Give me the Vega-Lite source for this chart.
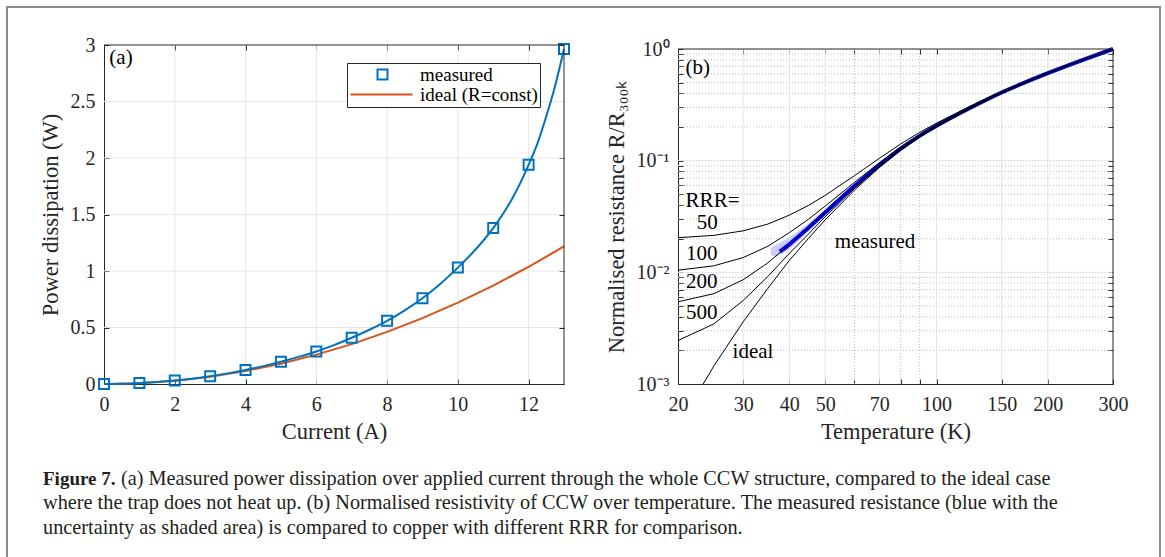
{
  "$schema": "https://vega.github.io/schema/vega-lite/v6.json",
  "width": 1153,
  "height": 560,
  "padding": {"left": 7, "top": 7, "right": 3, "bottom": 0},
  "autosize": "none",
  "background": "white",
  "datasets": {
    "pa": [
      {"I": 0, "P": 0, "s": "measured"}, {"I": 1, "P": 0.009, "s": "measured"}, {"I": 2, "P": 0.03, "s": "measured"},
      {"I": 3, "P": 0.068, "s": "measured"}, {"I": 4, "P": 0.124, "s": "measured"}, {"I": 5, "P": 0.197, "s": "measured"},
      {"I": 6, "P": 0.288, "s": "measured"}, {"I": 7, "P": 0.409, "s": "measured"}, {"I": 8, "P": 0.559, "s": "measured"},
      {"I": 9, "P": 0.759, "s": "measured"}, {"I": 10, "P": 1.03, "s": "measured"}, {"I": 11, "P": 1.38, "s": "measured"},
      {"I": 12, "P": 1.94, "s": "measured"}, {"I": 13, "P": 2.965, "s": "measured"}
    ],
    "pfit": [
      {"I": 0, "P": 0}, {"I": 0.5, "P": 0.002}, {"I": 1, "P": 0.009}, {"I": 1.5, "P": 0.018}, {"I": 2, "P": 0.03},
      {"I": 2.5, "P": 0.047}, {"I": 3, "P": 0.068}, {"I": 3.5, "P": 0.094}, {"I": 4, "P": 0.124}, {"I": 4.5, "P": 0.158},
      {"I": 5, "P": 0.197}, {"I": 5.5, "P": 0.24}, {"I": 6, "P": 0.288}, {"I": 6.5, "P": 0.344}, {"I": 7, "P": 0.409},
      {"I": 7.5, "P": 0.48}, {"I": 8, "P": 0.559}, {"I": 8.5, "P": 0.652}, {"I": 9, "P": 0.759}, {"I": 9.5, "P": 0.885},
      {"I": 10, "P": 1.03}, {"I": 10.5, "P": 1.19}, {"I": 11, "P": 1.38}, {"I": 11.5, "P": 1.62}, {"I": 12, "P": 1.94},
      {"I": 12.25, "P": 2.13}, {"I": 12.5, "P": 2.37}, {"I": 12.75, "P": 2.64}, {"I": 13, "P": 2.965}
    ],
    "pideal": [
      {"I": 0, "P": 0}, {"I": 1, "P": 0.0072}, {"I": 2, "P": 0.029}, {"I": 3, "P": 0.065}, {"I": 4, "P": 0.115},
      {"I": 5, "P": 0.18}, {"I": 6, "P": 0.26}, {"I": 7, "P": 0.353}, {"I": 8, "P": 0.461}, {"I": 9, "P": 0.583},
      {"I": 10, "P": 0.72}, {"I": 11, "P": 0.871}, {"I": 12, "P": 1.037}, {"I": 13, "P": 1.217}
    ],
    "gxa": [{"v": 2}, {"v": 4}, {"v": 6}, {"v": 8}, {"v": 10}, {"v": 12}],
    "gya": [{"v": 0.5}, {"v": 1}, {"v": 1.5}, {"v": 2}, {"v": 2.5}],
    "one": [{}],
    "laba": [{"x": 0.48, "y": 2.885, "t": "(a)"}],
    "gxbmaj": [{"v": 30}, {"v": 40}, {"v": 50}, {"v": 70}, {"v": 100}, {"v": 150}, {"v": 200}],
    "gxbmin": [{"v": 60}, {"v": 80}, {"v": 90}],
    "gybmaj": [{"v": 0.01}, {"v": 0.1}],
    "gybmin": [
      {"v": 0.002}, {"v": 0.003}, {"v": 0.004}, {"v": 0.005}, {"v": 0.006}, {"v": 0.007}, {"v": 0.008}, {"v": 0.009},
      {"v": 0.02}, {"v": 0.03}, {"v": 0.04}, {"v": 0.05}, {"v": 0.06}, {"v": 0.07}, {"v": 0.08}, {"v": 0.09},
      {"v": 0.2}, {"v": 0.3}, {"v": 0.4}, {"v": 0.5}, {"v": 0.6}, {"v": 0.7}, {"v": 0.8}, {"v": 0.9}
    ],
    "band": [
      {"T": 35.6, "lo": 0.0143, "hi": 0.0165}, {"T": 37, "lo": 0.0138, "hi": 0.0178}, {"T": 40, "lo": 0.016, "hi": 0.0205},
      {"T": 45, "lo": 0.0232, "hi": 0.0272}, {"T": 50, "lo": 0.0322, "hi": 0.0365}, {"T": 60, "lo": 0.0572, "hi": 0.0615},
      {"T": 70, "lo": 0.089, "hi": 0.0935}, {"T": 80, "lo": 0.126, "hi": 0.13}, {"T": 100, "lo": 0.203, "hi": 0.207},
      {"T": 150, "lo": 0.405, "hi": 0.41}, {"T": 200, "lo": 0.605, "hi": 0.611}, {"T": 300, "lo": 0.996, "hi": 1.0}
    ],
    "meas": [
      {"T": 37.7, "R": 0.0153}, {"T": 40, "R": 0.0178}, {"T": 45, "R": 0.025}, {"T": 50, "R": 0.0343}, {"T": 60, "R": 0.0592},
      {"T": 70, "R": 0.091}, {"T": 80, "R": 0.1279}, {"T": 90, "R": 0.1667}, {"T": 100, "R": 0.205}, {"T": 125, "R": 0.3035},
      {"T": 150, "R": 0.4075}, {"T": 200, "R": 0.608}, {"T": 250, "R": 0.805}, {"T": 300, "R": 1.0}
    ],
    "curves": [
      {"c": "ideal", "T": 23.4, "R": 0.001}, {"c": "ideal", "T": 25, "R": 0.00145}, {"c": "ideal", "T": 30, "R": 0.0036},
      {"c": "ideal", "T": 35, "R": 0.0072}, {"c": "ideal", "T": 40, "R": 0.0128}, {"c": "ideal", "T": 45, "R": 0.02},
      {"c": "ideal", "T": 50, "R": 0.0295}, {"c": "ideal", "T": 60, "R": 0.0545}, {"c": "ideal", "T": 70, "R": 0.0865},
      {"c": "ideal", "T": 80, "R": 0.1235}, {"c": "ideal", "T": 90, "R": 0.1625}, {"c": "ideal", "T": 100, "R": 0.201},
      {"c": "ideal", "T": 125, "R": 0.3}, {"c": "ideal", "T": 150, "R": 0.4045}, {"c": "ideal", "T": 200, "R": 0.606},
      {"c": "ideal", "T": 250, "R": 0.804}, {"c": "ideal", "T": 300, "R": 1.0},
      {"c": "50", "T": 20, "R": 0.02044}, {"c": "50", "T": 25, "R": 0.02142}, {"c": "50", "T": 30, "R": 0.02353},
      {"c": "50", "T": 35, "R": 0.02706}, {"c": "50", "T": 40, "R": 0.03254}, {"c": "50", "T": 45, "R": 0.0396},
      {"c": "50", "T": 50, "R": 0.04891}, {"c": "50", "T": 60, "R": 0.07341}, {"c": "50", "T": 70, "R": 0.10477},
      {"c": "50", "T": 80, "R": 0.14103}, {"c": "50", "T": 90, "R": 0.17925}, {"c": "50", "T": 100, "R": 0.21698},
      {"c": "50", "T": 125, "R": 0.314}, {"c": "50", "T": 150, "R": 0.41641}, {"c": "50", "T": 200, "R": 0.61388},
      {"c": "50", "T": 250, "R": 0.80792}, {"c": "50", "T": 300, "R": 1.0},
      {"c": "100", "T": 20, "R": 0.01045}, {"c": "100", "T": 25, "R": 0.01144}, {"c": "100", "T": 30, "R": 0.01356},
      {"c": "100", "T": 35, "R": 0.01713}, {"c": "100", "T": 40, "R": 0.02267}, {"c": "100", "T": 45, "R": 0.0298},
      {"c": "100", "T": 50, "R": 0.0392}, {"c": "100", "T": 60, "R": 0.06396}, {"c": "100", "T": 70, "R": 0.09564},
      {"c": "100", "T": 80, "R": 0.13227}, {"c": "100", "T": 90, "R": 0.17088}, {"c": "100", "T": 100, "R": 0.20899},
      {"c": "100", "T": 125, "R": 0.307}, {"c": "100", "T": 150, "R": 0.41046}, {"c": "100", "T": 200, "R": 0.60994},
      {"c": "100", "T": 250, "R": 0.80596}, {"c": "100", "T": 300, "R": 1.0},
      {"c": "200", "T": 20, "R": 0.00545}, {"c": "200", "T": 25, "R": 0.00644}, {"c": "200", "T": 30, "R": 0.00858},
      {"c": "200", "T": 35, "R": 0.01216}, {"c": "200", "T": 40, "R": 0.01774}, {"c": "200", "T": 45, "R": 0.0249},
      {"c": "200", "T": 50, "R": 0.03435}, {"c": "200", "T": 60, "R": 0.05923}, {"c": "200", "T": 70, "R": 0.09107},
      {"c": "200", "T": 80, "R": 0.12788}, {"c": "200", "T": 90, "R": 0.16669}, {"c": "200", "T": 100, "R": 0.205},
      {"c": "200", "T": 125, "R": 0.3035}, {"c": "200", "T": 150, "R": 0.40748}, {"c": "200", "T": 200, "R": 0.60797},
      {"c": "200", "T": 250, "R": 0.80498}, {"c": "200", "T": 300, "R": 1.0},
      {"c": "500", "T": 20, "R": 0.00245}, {"c": "500", "T": 25, "R": 0.00345}, {"c": "500", "T": 30, "R": 0.00559},
      {"c": "500", "T": 35, "R": 0.00919}, {"c": "500", "T": 40, "R": 0.01477}, {"c": "500", "T": 45, "R": 0.02196},
      {"c": "500", "T": 50, "R": 0.03144}, {"c": "500", "T": 60, "R": 0.05639}, {"c": "500", "T": 70, "R": 0.08833},
      {"c": "500", "T": 80, "R": 0.12525}, {"c": "500", "T": 90, "R": 0.16418}, {"c": "500", "T": 100, "R": 0.2026},
      {"c": "500", "T": 125, "R": 0.3014}, {"c": "500", "T": 150, "R": 0.40569}, {"c": "500", "T": 200, "R": 0.60679},
      {"c": "500", "T": 250, "R": 0.80439}, {"c": "500", "T": 300, "R": 1.0}
    ],
    "labb": [
      {"T": 24.8, "R": 0.0435, "t": "RRR="}, {"T": 24.0, "R": 0.0274, "t": "50"}, {"T": 23.2, "R": 0.0146, "t": "100"},
      {"T": 23.2, "R": 0.0082, "t": "200"}, {"T": 23.2, "R": 0.00435, "t": "500"}, {"T": 31.9, "R": 0.00194, "t": "ideal"},
      {"T": 68.2, "R": 0.0188, "t": "measured"}, {"T": 22.6, "R": 0.675, "t": "(b)"}
    ],
    "cap1": [{"line": 1, "t": "Figure 7."}],
    "cap2": [{"line": 1, "t": "(a) Measured power dissipation over applied current through the whole CCW structure, compared to the ideal case"}],
    "cap3": [
      {"line": 2, "t": "where the trap does not heat up. (b) Normalised resistivity of CCW over temperature. The measured resistance (blue with the"},
      {"line": 3, "t": "uncertainty as shaded area) is compared to copper with different RRR for comparison."}
    ]
  },
  "layer": [
    {
      "data": {"name": "gxa"},
      "mark": {"type": "rule", "color": "#E6E6E6", "strokeWidth": 1},
      "encoding": {
        "x": {"field": "v", "type": "quantitative", "scale": {"domain": [0, 13], "range": [97, 557], "zero": false, "nice": false}, "axis": null},
        "y": {"datum": 0, "type": "quantitative", "scale": {"domain": [0, 3], "range": [377, 38], "zero": false, "nice": false}, "axis": null},
        "y2": {"datum": 3}
      }
    },
    {
      "data": {"name": "gya"},
      "mark": {"type": "rule", "color": "#E6E6E6", "strokeWidth": 1},
      "encoding": {
        "y": {"field": "v", "type": "quantitative", "scale": {"domain": [0, 3], "range": [377, 38], "zero": false, "nice": false}, "axis": null},
        "x": {"datum": 0, "type": "quantitative", "scale": {"domain": [0, 13], "range": [97, 557], "zero": false, "nice": false}, "axis": null},
        "x2": {"datum": 13}
      }
    },
    {
      "data": {"name": "pideal"},
      "mark": {"type": "line", "color": "#D95319", "strokeWidth": 2},
      "encoding": {
        "x": {"field": "I", "type": "quantitative", "scale": {"domain": [0, 13], "range": [97, 557], "zero": false, "nice": false}, "axis": null},
        "y": {"field": "P", "type": "quantitative", "scale": {"domain": [0, 3], "range": [377, 38], "zero": false, "nice": false}, "axis": null}
      }
    },
    {
      "data": {"name": "pfit"},
      "mark": {"type": "line", "color": "#0072BD", "strokeWidth": 2, "interpolate": "monotone"},
      "encoding": {
        "x": {"field": "I", "type": "quantitative", "scale": {"domain": [0, 13], "range": [97, 557], "zero": false, "nice": false},
          "axis": {"orient": "bottom", "offset": -183, "values": [0, 2, 4, 6, 8, 10, 12], "format": "~g", "title": "Current (A)"}},
        "y": {"field": "P", "type": "quantitative", "scale": {"domain": [0, 3], "range": [377, 38], "zero": false, "nice": false},
          "axis": {"orient": "left", "offset": -97, "values": [0, 0.5, 1, 1.5, 2, 2.5, 3], "format": "~g", "title": "Power dissipation (W)"}}
      }
    },
    {
      "data": {"name": "pa"},
      "mark": {"type": "point", "filled": false, "size": 100, "strokeWidth": 2, "opacity": 1},
      "encoding": {
        "x": {"field": "I", "type": "quantitative", "scale": {"domain": [0, 13], "range": [97, 557], "zero": false, "nice": false}, "axis": null},
        "y": {"field": "P", "type": "quantitative", "scale": {"domain": [0, 3], "range": [377, 38], "zero": false, "nice": false}, "axis": null},
        "color": {"field": "s", "type": "nominal", "scale": {"domain": ["measured", "ideal (R=const)"], "range": ["#0072BD", "#D95319"]}},
        "shape": {"field": "s", "type": "nominal", "scale": {"domain": ["measured", "ideal (R=const)"], "range": ["square", "M-6.4,0H6"]}}
      }
    },
    {
      "data": {"name": "one"},
      "mark": {"type": "rule", "color": "#262626", "strokeWidth": 1},
      "encoding": {
        "x": {"datum": 0, "type": "quantitative", "scale": {"domain": [0, 13], "range": [97, 557], "zero": false, "nice": false},
          "axis": {"orient": "top", "offset": -38, "values": [0, 2, 4, 6, 8, 10, 12], "labels": false, "domain": false, "title": null}},
        "x2": {"datum": 13},
        "y": {"datum": 3, "type": "quantitative", "scale": {"domain": [0, 3], "range": [377, 38], "zero": false, "nice": false}, "axis": null}
      }
    },
    {
      "data": {"name": "one"},
      "mark": {"type": "rule", "color": "#262626", "strokeWidth": 1},
      "encoding": {
        "x": {"datum": 13, "type": "quantitative", "scale": {"domain": [0, 13], "range": [97, 557], "zero": false, "nice": false}, "axis": null},
        "y": {"datum": 0, "type": "quantitative", "scale": {"domain": [0, 3], "range": [377, 38], "zero": false, "nice": false},
          "axis": {"orient": "right", "offset": -596, "values": [0, 0.5, 1, 1.5, 2, 2.5, 3], "labels": false, "domain": false, "title": null}},
        "y2": {"datum": 3}
      }
    },
    {
      "data": {"name": "laba"},
      "mark": {"type": "text", "fontSize": 21, "font": "Liberation Serif", "color": "#000000", "align": "center", "baseline": "middle"},
      "encoding": {
        "x": {"field": "x", "type": "quantitative", "scale": {"domain": [0, 13], "range": [97, 557], "zero": false, "nice": false}, "axis": null},
        "y": {"field": "y", "type": "quantitative", "scale": {"domain": [0, 3], "range": [377, 38], "zero": false, "nice": false}, "axis": null},
        "text": {"field": "t"}
      }
    },
    {
      "data": {"name": "gxbmin"},
      "mark": {"type": "rule", "color": "#BDBDBD", "strokeWidth": 1, "strokeDash": [1, 2]},
      "encoding": {
        "x": {"field": "v", "type": "quantitative", "scale": {"type": "log", "domain": [20, 300], "range": [671, 1106], "nice": false}, "axis": null},
        "y": {"datum": 0.001, "type": "quantitative", "scale": {"type": "log", "domain": [0.001, 1], "range": [377, 42], "nice": false}, "axis": null},
        "y2": {"datum": 1}
      }
    },
    {
      "data": {"name": "gybmin"},
      "mark": {"type": "rule", "color": "#BDBDBD", "strokeWidth": 1, "strokeDash": [1, 2]},
      "encoding": {
        "y": {"field": "v", "type": "quantitative", "scale": {"type": "log", "domain": [0.001, 1], "range": [377, 42], "nice": false}, "axis": null},
        "x": {"datum": 20, "type": "quantitative", "scale": {"type": "log", "domain": [20, 300], "range": [671, 1106], "nice": false}, "axis": null},
        "x2": {"datum": 300}
      }
    },
    {
      "data": {"name": "gxbmaj"},
      "mark": {"type": "rule", "color": "#E3E3E3", "strokeWidth": 1},
      "encoding": {
        "x": {"field": "v", "type": "quantitative", "scale": {"type": "log", "domain": [20, 300], "range": [671, 1106], "nice": false}, "axis": null},
        "y": {"datum": 0.001, "type": "quantitative", "scale": {"type": "log", "domain": [0.001, 1], "range": [377, 42], "nice": false}, "axis": null},
        "y2": {"datum": 1}
      }
    },
    {
      "data": {"name": "gybmaj"},
      "mark": {"type": "rule", "color": "#E3E3E3", "strokeWidth": 1},
      "encoding": {
        "y": {"field": "v", "type": "quantitative", "scale": {"type": "log", "domain": [0.001, 1], "range": [377, 42], "nice": false}, "axis": null},
        "x": {"datum": 20, "type": "quantitative", "scale": {"type": "log", "domain": [20, 300], "range": [671, 1106], "nice": false}, "axis": null},
        "x2": {"datum": 300}
      }
    },
    {
      "data": {"name": "band"},
      "mark": {"type": "area", "color": "#CCCCFF", "opacity": 1},
      "encoding": {
        "x": {"field": "T", "type": "quantitative", "scale": {"type": "log", "domain": [20, 300], "range": [671, 1106], "nice": false}, "axis": null},
        "y": {"field": "lo", "type": "quantitative", "scale": {"type": "log", "domain": [0.001, 1], "range": [377, 42], "nice": false}, "axis": null},
        "y2": {"field": "hi"}
      }
    },
    {
      "data": {"name": "meas"},
      "mark": {"type": "line", "color": "#0000FF", "strokeWidth": 4, "interpolate": "monotone"},
      "encoding": {
        "x": {"field": "T", "type": "quantitative", "scale": {"type": "log", "domain": [20, 300], "range": [671, 1106], "nice": false},
          "axis": {"orient": "bottom", "offset": -183, "values": [20, 30, 40, 50, 60, 70, 80, 90, 100, 150, 200, 300],
            "labelExpr": "indexof([60, 80, 90], datum.value) >= 0 ? '' : format(datum.value, 'd')", "title": "Temperature (K)"}},
        "y": {"field": "R", "type": "quantitative", "scale": {"type": "log", "domain": [0.001, 1], "range": [377, 42], "nice": false},
          "axis": {"orient": "left", "offset": -671,
            "values": [0.001, 0.002, 0.003, 0.004, 0.005, 0.006, 0.007, 0.008, 0.009, 0.01, 0.02, 0.03, 0.04, 0.05, 0.06, 0.07, 0.08, 0.09, 0.1, 0.2, 0.3, 0.4, 0.5, 0.6, 0.7, 0.8, 0.9, 1],
            "labelExpr": "datum.value == 1 ? '10⁰' : datum.value == 0.1 ? '10⁻¹' : datum.value == 0.01 ? '10⁻²' : datum.value == 0.001 ? '10⁻³' : ''",
            "title": "Normalised resistance R/R₃₀₀ₖ"}}
      }
    },
    {
      "data": {"name": "curves"},
      "mark": {"type": "line", "color": "#000000", "strokeWidth": 1},
      "encoding": {
        "x": {"field": "T", "type": "quantitative", "scale": {"type": "log", "domain": [20, 300], "range": [671, 1106], "nice": false}, "axis": null},
        "y": {"field": "R", "type": "quantitative", "scale": {"type": "log", "domain": [0.001, 1], "range": [377, 42], "nice": false}, "axis": null},
        "detail": {"field": "c", "type": "nominal"}
      }
    },
    {
      "data": {"name": "one"},
      "mark": {"type": "rule", "color": "#262626", "strokeWidth": 1},
      "encoding": {
        "x": {"datum": 20, "type": "quantitative", "scale": {"type": "log", "domain": [20, 300], "range": [671, 1106], "nice": false},
          "axis": {"orient": "top", "offset": -42, "values": [20, 30, 40, 50, 60, 70, 80, 90, 100, 150, 200, 300], "labels": false, "domain": false, "title": null}},
        "x2": {"datum": 300},
        "y": {"datum": 1, "type": "quantitative", "scale": {"type": "log", "domain": [0.001, 1], "range": [377, 42], "nice": false}, "axis": null}
      }
    },
    {
      "data": {"name": "one"},
      "mark": {"type": "rule", "color": "#262626", "strokeWidth": 1},
      "encoding": {
        "x": {"datum": 300, "type": "quantitative", "scale": {"type": "log", "domain": [20, 300], "range": [671, 1106], "nice": false}, "axis": null},
        "y": {"datum": 0.001, "type": "quantitative", "scale": {"type": "log", "domain": [0.001, 1], "range": [377, 42], "nice": false},
          "axis": {"orient": "right", "offset": -47,
            "values": [0.001, 0.002, 0.003, 0.004, 0.005, 0.006, 0.007, 0.008, 0.009, 0.01, 0.02, 0.03, 0.04, 0.05, 0.06, 0.07, 0.08, 0.09, 0.1, 0.2, 0.3, 0.4, 0.5, 0.6, 0.7, 0.8, 0.9, 1],
            "labels": false, "domain": false, "title": null}},
        "y2": {"datum": 1}
      }
    },
    {
      "data": {"name": "labb"},
      "mark": {"type": "text", "fontSize": 21, "font": "Liberation Serif", "color": "#000000", "align": "center", "baseline": "middle"},
      "encoding": {
        "x": {"field": "T", "type": "quantitative", "scale": {"type": "log", "domain": [20, 300], "range": [671, 1106], "nice": false}, "axis": null},
        "y": {"field": "R", "type": "quantitative", "scale": {"type": "log", "domain": [0.001, 1], "range": [377, 42], "nice": false}, "axis": null},
        "text": {"field": "t"}
      }
    },
    {
      "data": {"name": "cap1"},
      "mark": {"type": "text", "fontSize": 19, "font": "Liberation Serif", "fontWeight": "bold", "color": "#231F20", "align": "left", "baseline": "middle"},
      "encoding": {
        "x": {"datum": 0, "type": "quantitative", "scale": {"domain": [0, 1], "range": [36, 1100]}, "axis": null},
        "y": {"field": "line", "type": "quantitative", "scale": {"domain": [1, 3], "range": [471.5, 520.5]}, "axis": null},
        "text": {"field": "t"}
      }
    },
    {
      "data": {"name": "cap2"},
      "mark": {"type": "text", "fontSize": 20.3, "font": "Liberation Serif", "color": "#231F20", "align": "left", "baseline": "middle", "dx": 78},
      "encoding": {
        "x": {"datum": 0, "type": "quantitative", "scale": {"domain": [0, 1], "range": [36, 1100]}, "axis": null},
        "y": {"field": "line", "type": "quantitative", "scale": {"domain": [1, 3], "range": [471.5, 520.5]}, "axis": null},
        "text": {"field": "t"}
      }
    },
    {
      "data": {"name": "cap3"},
      "mark": {"type": "text", "fontSize": 20.3, "font": "Liberation Serif", "color": "#231F20", "align": "left", "baseline": "middle"},
      "encoding": {
        "x": {"datum": 0, "type": "quantitative", "scale": {"domain": [0, 1], "range": [36, 1100]}, "axis": null},
        "y": {"field": "line", "type": "quantitative", "scale": {"domain": [1, 3], "range": [471.5, 520.5]}, "axis": null},
        "text": {"field": "t"}
      }
    }
  ],
  "resolve": {"scale": {"x": "independent", "y": "independent"}, "axis": {"x": "independent", "y": "independent"}},
  "config": {
    "view": {"stroke": "#8C8C8C", "strokeWidth": 2},
    "axis": {
      "grid": false, "labelFont": "Liberation Serif", "titleFont": "Liberation Serif", "labelFontSize": 20, "titleFontSize": 22.5,
      "titleFontWeight": "normal", "labelColor": "#262626", "titleColor": "#262626", "domainColor": "#262626", "tickColor": "#262626",
      "domainWidth": 1, "tickWidth": 1, "tickSize": -5, "labelFlush": false, "labelOverlap": false, "labelBound": false
    },
    "axisX": {"labelPadding": 15, "titlePadding": 6},
    "axisY": {"labelPadding": 14, "titlePadding": 8},
    "legend": {
      "orient": "none", "legendX": 340, "legendY": 56, "title": null, "symbolSize": 100, "symbolStrokeWidth": 2,
      "symbolOffset": 24, "labelOffset": 28, "labelFont": "Liberation Serif", "labelFontSize": 19, "labelColor": "#000000",
      "strokeColor": "#262626", "fillColor": "white", "padding": 2, "rowPadding": 0, "cornerRadius": 0
    }
  }
}
